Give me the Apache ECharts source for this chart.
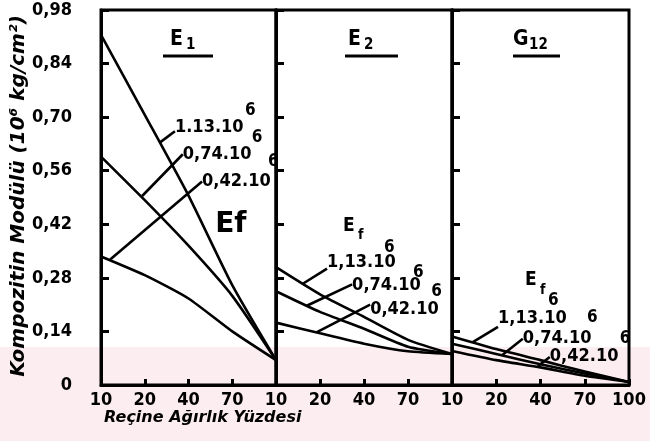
<!DOCTYPE html>
<html><head><meta charset="utf-8">
<script src="https://cdn.jsdelivr.net/npm/echarts@6/dist/echarts.min.js"></script>
<style>html,body{margin:0;padding:0;background:#fff}#c{width:650px;height:441px}</style>
</head><body><div id="c"></div>
<script>
// ---- data ----
const xTicks = ['10', '20', '40', '70', '100'];           // resin weight %
const panelTitles = ['E', 'E', 'G'];
const panelSubs = ['1', '2', '12'];
const curveNames = ['1.13.10⁶', '0,74.10⁶', '0,42.10⁶'];
const yTitle = 'Kompozitin Modülü (10⁶ kg/cm²)';
const xTitle = 'Reçine Ağırlık Yüzdesi';

const e1_113 = [0.915, 0.706, 0.495, 0.261, 0.065];
const e1_074 = [0.597, 0.483, 0.364, 0.233, 0.065];
const e1_042 = [0.336, 0.287, 0.226, 0.140, 0.065];
const e2_113 = [0.308, 0.237, 0.178, 0.118, 0.081];
const e2_074 = [0.245, 0.191, 0.147, 0.100, 0.081];
const e2_042 = [0.163, 0.135, 0.108, 0.088, 0.081];
const g12_113 = [0.127, 0.094, 0.065, 0.035, 0.008];
const g12_074 = [0.108, 0.081, 0.054, 0.030, 0.008];
const g12_042 = [0.089, 0.065, 0.046, 0.024, 0.008];
const panelData = [[e1_113, e1_074, e1_042], [e2_113, e2_074, e2_042], [g12_113, g12_074, g12_042]];

// ---- layout / annotations ----
const F = '"DejaVu Sans Condensed","DejaVu Sans",sans-serif';
const grids = [
  {left: 101, top: 10, width: 175, height: 375},
  {left: 276, top: 10, width: 176, height: 375},
  {left: 452, top: 10, width: 177, height: 375}
];
// leader lines [panel, x1, y1, x2, y2] in data space
const leaders = [
  [0, 1.69, 0.663, 1.35, 0.634], [0, 1.87, 0.603, 0.94, 0.494], [0, 2.31, 0.532, 0.21, 0.328],
  [1, 1.16, 0.304, 0.60, 0.264], [1, 1.73, 0.263, 0.70, 0.207], [1, 2.14, 0.210, 0.93, 0.138],
  [2, 1.04, 0.152, 0.47, 0.112], [2, 1.60, 0.121, 1.13, 0.078], [2, 2.21, 0.073, 1.94, 0.049]
];
// labels [panel, x, y, text, supText, supDx, supDy, size]
const labels = [
  [0, 1.69, 0.674, '1.13.10', '6', 70, -17, 18],
  [0, 1.87, 0.603, '0,74.10', '6', 69, -17, 18],
  [0, 2.31, 0.532, '0,42.10', '6', 66, -20, 18],
  [1, 1.16, 0.321, '1,13.10', '6', 57, -15, 18],
  [1, 1.73, 0.261, '0,74.10', '6', 61, -13, 18],
  [1, 2.14, 0.198, '0,42.10', '6', 61, -18, 18],
  [2, 1.04, 0.175, '1,13.10', '6', 89, 0, 18],
  [2, 1.60, 0.121, '0,74.10', '6', 97, 0, 18],
  [2, 2.21, 0.075, '0,42.10', '', 0, 0, 18]
];

const chart = echarts.init(document.getElementById('c'), null, {renderer: 'canvas'});

const xAxes = grids.map((g, i) => ({
  gridIndex: i, type: 'value', min: 0, max: 4, interval: 1,
  axisLine: {show: true, lineStyle: {color: '#000', width: 3}},
  axisTick: {show: true, inside: true, length: 6, lineStyle: {color: '#000', width: 3}},
  splitLine: {show: false},
  axisLabel: {
    show: true, margin: 6, color: '#000', fontFamily: F, fontSize: 18, fontWeight: 'bold',
    formatter: v => (i < 2 && v === 4) ? '' : xTicks[v]
  }
}));
const yAxes = grids.map((g, i) => ({
  gridIndex: i, type: 'value', min: 0, max: 0.98, interval: 0.14,
  axisLine: {show: true, lineStyle: {color: '#000', width: 3}},
  axisTick: {show: true, inside: true, length: 8, lineStyle: {color: '#000', width: 3}},
  splitLine: {show: false},
  axisLabel: {
    show: i === 0, margin: 29, color: '#000', fontFamily: F, fontSize: 18, fontWeight: 'bold',
    formatter: v => v === 0 ? '0' : v.toFixed(2).replace('.', ',')
  }
}));

const series = [];
panelData.forEach((lines, p) => {
  lines.forEach((arr, k) => {
    series.push({
      type: 'line', name: curveNames[k] + ' ' + p, xAxisIndex: p, yAxisIndex: p,
      data: arr.map((v, i) => [i, v]), showSymbol: false, symbol: 'none',
      smooth: 0.2, lineStyle: {color: '#000', width: 2.6}, silent: true, z: 3
    });
  });
});
leaders.forEach(l => {
  series.push({
    type: 'line', xAxisIndex: l[0], yAxisIndex: l[0],
    data: [[l[1], l[2]], [l[3], l[4]]], symbol: 'none', showSymbol: false,
    lineStyle: {color: '#000', width: 2.6}, silent: true, z: 3
  });
});

chart.setOption({
  animation: false,
  grid: grids.map(g => Object.assign({show: true, borderColor: '#000', borderWidth: 3, backgroundColor: 'transparent'}, g)),
  xAxis: xAxes, yAxis: yAxes, series: series
});

function txt(x, y, text, size, opts) {
  opts = opts || {};
  return {
    type: 'text', x: x, y: y, rotation: opts.rot || 0, z: 10, silent: true,
    style: {
      text: text, fill: '#000',
      font: (opts.style || '') + ' ' + (opts.weight || 'bold') + ' ' + size + 'px ' + (opts.family || F),
      align: opts.align || 'left', verticalAlign: 'middle',
      textAlign: opts.align || 'left', textVerticalAlign: 'middle'
    }
  };
}
const graphic = [];
graphic.push({type: 'rect', z: -100, silent: true, shape: {x: 0, y: 347, width: 650, height: 94}, style: {fill: '#fcedf0'}});
// panel titles with underline
const titlePos = [[170, 163, 213], [348, 345, 398], [513, 513, 560]];
titlePos.forEach((t, i) => {
  graphic.push(txt(t[0], 40, panelTitles[i], 21, {}));
  graphic.push(txt(t[0] + 16, 45, panelSubs[i], 15, {}));
  graphic.push({type: 'line', z: 10, silent: true, shape: {x1: t[1], y1: 56, x2: t[2], y2: 56}, style: {stroke: '#000', lineWidth: 3}});
});
// curve labels
labels.forEach(l => {
  const pt = chart.convertToPixel({gridIndex: l[0]}, [l[1], l[2]]);
  graphic.push(txt(pt[0], pt[1], l[3], l[7], {}));
  if (l[4]) graphic.push(txt(pt[0] + l[5], pt[1] + l[6], l[4], 17, {}));
});
// Ef markers
let p0 = chart.convertToPixel({gridIndex: 0}, [2.61, 0.418]);
graphic.push(txt(p0[0], p0[1], 'Ef', 28, {family: '"DejaVu Sans",sans-serif'}));
let p1 = chart.convertToPixel({gridIndex: 1}, [1.52, 0.416]);
graphic.push(txt(p1[0], p1[1], 'E', 19, {}));
graphic.push(txt(p1[0] + 15, p1[1] + 10, 'f', 14, {}));
let p2 = chart.convertToPixel({gridIndex: 2}, [1.65, 0.273]);
graphic.push(txt(p2[0], p2[1], 'E', 19, {}));
graphic.push(txt(p2[0] + 15, p2[1] + 10, 'f', 14, {}));
graphic.push(txt(p2[0] + 23, p2[1] + 20, '6', 17, {}));
// axis titles
graphic.push(txt(19, 196, yTitle, 20, {rot: Math.PI / 2, align: 'center', style: 'italic', family: '"DejaVu Sans",sans-serif'}));
graphic.push(txt(104, 418, xTitle, 16, {style: 'italic', family: '"DejaVu Sans",sans-serif'}));

chart.setOption({graphic: graphic});
</script>
</body></html>
